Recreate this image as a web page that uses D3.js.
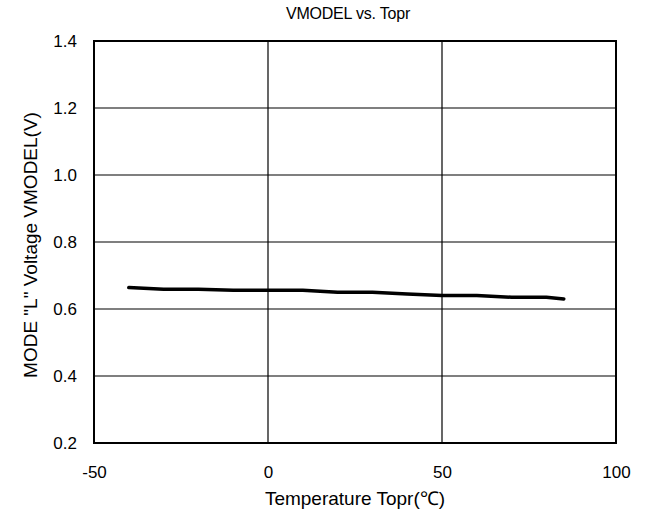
<!DOCTYPE html>
<html><head><meta charset="utf-8">
<script src="https://cdn.jsdelivr.net/npm/d3@7"></script>
<style>body{margin:0;background:#fff}svg{display:block}text{font-family:"Liberation Sans",Arial,sans-serif;fill:#000}</style>
</head><body>
<svg id="c" width="648" height="518"></svg>
<script>
const temps = [-40, -30, -20, -10, 0, 10, 20, 30, 40, 50, 60, 70, 80, 85];
const vmodel = [0.664, 0.659, 0.659, 0.656, 0.656, 0.656, 0.650, 0.650, 0.645, 0.640, 0.640, 0.635, 0.635, 0.630];
const xTicks = [-50, 0, 50, 100];
const yTicks = [0.2, 0.4, 0.6, 0.8, 1.0, 1.2, 1.4];
const title = "VMODEL vs. Topr";
const xLabel = "Temperature Topr(℃)";
const yLabel = "MODE \"L\" Voltage VMODEL(V)";

const svg = d3.select("#c");
const L = 94, R = 616, T = 41, B = 443;
const x = d3.scaleLinear().domain([-50, 100]).range([L, R]);
const y = d3.scaleLinear().domain([0.2, 1.4]).range([B, T]);
const FONT = "Liberation Sans, Arial, sans-serif";

// grid
svg.append("g").selectAll("line").data(yTicks.slice(1, -1)).join("line")
  .attr("x1", L).attr("x2", R).attr("y1", d => y(d)).attr("y2", d => y(d))
  .attr("stroke", "#000").attr("stroke-width", 1.2);
svg.append("g").selectAll("line").data(xTicks.slice(1, -1)).join("line")
  .attr("y1", T).attr("y2", B).attr("x1", d => x(d)).attr("x2", d => x(d))
  .attr("stroke", "#000").attr("stroke-width", 1.2);
// frame
svg.append("rect").attr("x", L).attr("y", T).attr("width", R - L).attr("height", B - T)
  .attr("fill", "none").attr("stroke", "#000").attr("stroke-width", 2);

// axes
const xa = svg.append("g").attr("transform", `translate(0,${B})`)
  .call(d3.axisBottom(x).tickValues(xTicks).tickSize(0).tickPadding(0).tickFormat(d => String(d)));
xa.select(".domain").remove();
xa.selectAll("text").attr("font-size", 17).attr("dy", null).attr("y", 35)
  .style("font-family", FONT).attr("fill", "#000");
const ya = svg.append("g").attr("transform", `translate(${L},0)`)
  .call(d3.axisLeft(y).tickValues(yTicks).tickSize(0).tickPadding(17).tickFormat(d3.format(".1f")));
ya.select(".domain").remove();
ya.selectAll("text").attr("font-size", 17).attr("dy", "0.35em").style("font-family", FONT).attr("fill", "#000");

// data line
svg.append("path").datum(temps.map((t, i) => [t, vmodel[i]]))
  .attr("d", d3.line().x(d => x(d[0])).y(d => y(d[1])))
  .attr("fill", "none").attr("stroke", "#000").attr("stroke-width", 3.5)
  .attr("stroke-linejoin", "round").attr("stroke-linecap", "round");

// titles
svg.append("text").attr("x", (L + R) / 2 - 7).attr("y", 19).attr("text-anchor", "middle")
  .attr("font-size", 16).attr("letter-spacing", -0.2).text(title);
svg.append("text").attr("x", (L + R) / 2).attr("y", 505).attr("text-anchor", "middle")
  .attr("font-size", 19).text(xLabel);
svg.append("text").attr("transform", `translate(37,${(T + B) / 2 + 3}) rotate(-90)`).attr("text-anchor", "middle")
  .attr("font-size", 19).text(yLabel);
</script>
</body></html>
